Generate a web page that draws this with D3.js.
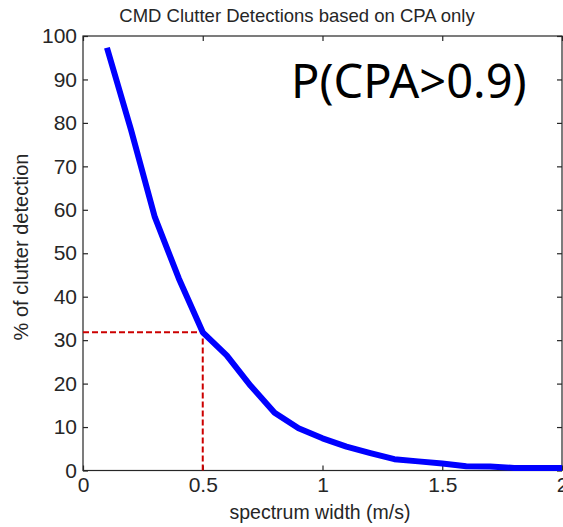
<!DOCTYPE html>
<html>
<head>
<meta charset="utf-8">
<script src="https://cdn.jsdelivr.net/npm/d3@7"></script>
<style>
  html, body { margin: 0; padding: 0; background: #fff; overflow: hidden; }
  text { font-family: "Liberation Sans", Arial, sans-serif; fill: #262626; }
</style>
</head>
<body>
<div class="canvas"></div>
<script>
// data
const widths = [0.1, 0.2, 0.3, 0.4, 0.5, 0.6, 0.7, 0.8, 0.9, 1.0,
                1.1, 1.2, 1.3, 1.4, 1.5, 1.6, 1.7, 1.8, 1.9, 2.0];
const detections = [97.3, 78.5, 58.3, 44.2, 31.8, 26.5, 19.5, 13.3, 9.7, 7.4,
                    5.5, 4.0, 2.6, 2.1, 1.6, 1.0, 0.9, 0.6, 0.6, 0.6];
const xTicks = [0, 0.5, 1, 1.5, 2];
const yTicks = [0, 10, 20, 30, 40, 50, 60, 70, 80, 90, 100];
const marker = {x: 0.5, y: 31.8};

// chart dimensions
const dims = {width: 563, height: 527};
const plot = {left: 83, right: 562, top: 36, bottom: 470.5};

const svg = d3.select('.canvas')
  .append('svg')
  .attr('width', dims.width)
  .attr('height', dims.height);

const x = d3.scaleLinear().domain([0, 2]).range([plot.left, plot.right]);
const y = d3.scaleLinear().domain([0, 100]).range([plot.bottom, plot.top]);

// frame
svg.append('rect')
  .attr('x', plot.left).attr('y', plot.top)
  .attr('width', plot.right - plot.left).attr('height', plot.bottom - plot.top)
  .attr('fill', 'none').attr('stroke', '#262626').attr('stroke-width', 1.2);

// axes with inward ticks
const axisStyle = g => {
  g.select('.domain').remove();
  g.selectAll('.tick line').attr('stroke', '#262626').attr('stroke-width', 1.2);
  g.selectAll('.tick text')
    .style('font-family', '"Liberation Sans", Arial, sans-serif')
    .style('font-size', '21px').attr('fill', '#262626');
};

svg.append('g')
  .attr('transform', `translate(0,${plot.bottom})`)
  .call(d3.axisBottom(x).tickValues(xTicks).tickSizeInner(-5).tickPadding(7).tickFormat(d3.format('')))
  .call(axisStyle);

svg.append('g')
  .attr('transform', `translate(0,${plot.top})`)
  .call(d3.axisTop(x).tickValues(xTicks).tickSizeInner(-5).tickFormat(''))
  .call(axisStyle);

svg.append('g')
  .attr('transform', `translate(${plot.left},0)`)
  .call(d3.axisLeft(y).tickValues(yTicks).tickSizeInner(-5).tickPadding(6))
  .call(axisStyle);

svg.append('g')
  .attr('transform', `translate(${plot.right},0)`)
  .call(d3.axisRight(y).tickValues(yTicks).tickSizeInner(-5).tickFormat(''))
  .call(axisStyle);

// dashed marker lines
svg.append('path')
  .attr('d', `M${x(0)},${y(marker.y)}L${x(marker.x)},${y(marker.y)}L${x(marker.x)},${y(0)}`)
  .attr('fill', 'none')
  .attr('stroke', '#cc0000')
  .attr('stroke-width', 2)
  .attr('stroke-dasharray', '6,3');

// the curve
const line = d3.line()
  .x((d, i) => x(widths[i]))
  .y(d => y(d));

svg.append('path')
  .datum(detections)
  .attr('d', line)
  .attr('fill', 'none')
  .attr('stroke', '#0000ff')
  .attr('stroke-width', 6)
  .attr('stroke-linejoin', 'round');

// labels
svg.append('text')
  .attr('x', 297).attr('y', 22)
  .attr('text-anchor', 'middle')
  .style('font-size', '18.5px')
  .text('CMD Clutter Detections based on CPA only');

svg.append('text')
  .attr('x', 320).attr('y', 519)
  .attr('text-anchor', 'middle')
  .style('font-size', '19.5px')
  .text('spectrum width (m/s)');

svg.append('text')
  .attr('transform', 'translate(28,247) rotate(-90)')
  .attr('text-anchor', 'middle')
  .style('font-size', '20px')
  .text('% of clutter detection');

svg.append('text')
  .attr('x', 291).attr('y', 98)
  .style('font-family', '"Noto Sans", "DejaVu Sans", sans-serif')
  .style('font-size', '47px')
  .style('fill', '#000')
  .text('P(CPA>0.9)');
</script>
</body>
</html>
